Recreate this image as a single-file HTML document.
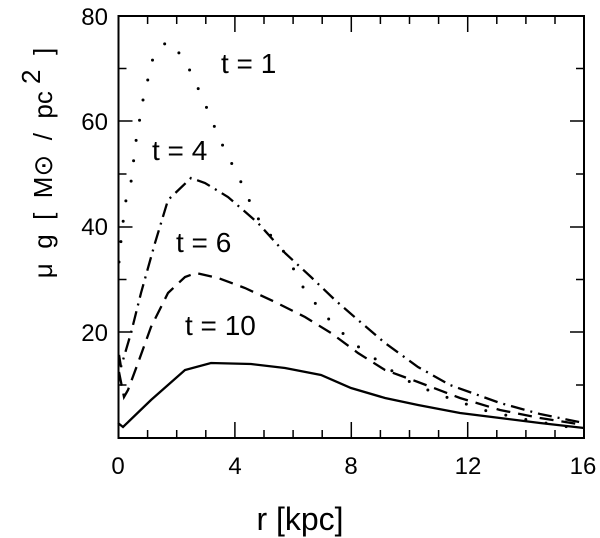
<!DOCTYPE html><html><head><style>body{margin:0;background:#fff}svg{display:block}text{font-family:"Liberation Sans","DejaVu Sans",sans-serif;fill:#000}</style></head><body>
<svg width="600" height="538" viewBox="0 0 600 538">
<g stroke="#000" stroke-width="2" fill="none">
<rect x="118.5" y="16" width="465.5" height="422"/>
</g>
<g stroke="#000" stroke-width="1.5">
<path d="M118.5 438v-8M147.6 438v-8M176.7 438v-8M205.8 438v-8M234.9 438v-16M264 438v-8M293.1 438v-8M322.2 438v-8M351.3 438v-16M380.4 438v-8M409.5 438v-8M438.6 438v-8M467.7 438v-16M496.8 438v-8M525.9 438v-8M555 438v-8
M147.6 16v8M176.7 16v8M205.8 16v8M234.9 16v16M264 16v8M293.1 16v8M322.2 16v8M351.3 16v16M380.4 16v8M409.5 16v8M438.6 16v8M467.7 16v16M496.8 16v8M525.9 16v8M555 16v8
M118.5 385h8M118.5 332h14M118.5 279.5h8M118.5 227h14M118.5 174h8M118.5 121h14M118.5 68.5h8
M584 385h-8M584 332h-14M584 279.5h-8M584 227h-14M584 174h-8M584 121h-14M584 68.5h-8"/>
</g>
<g font-size="24" text-anchor="end">
<text x="108" y="25">80</text><text x="108" y="130">60</text><text x="108" y="235">40</text><text x="108" y="341">20</text>
</g>
<g font-size="24" text-anchor="middle">
<text x="118" y="474">0</text><text x="235" y="474">4</text><text x="351" y="474">8</text><text x="468" y="474">12</text><text x="583" y="474">16</text>
</g>
<text x="300" y="530" font-size="32" text-anchor="middle">r [kpc]</text>
<text transform="translate(52,163) rotate(-90)" font-size="26" text-anchor="middle" xml:space="preserve">μ  g  [  M⊙  /  pc <tspan dy="-12">2</tspan><tspan dy="12">  ]</tspan></text>
<g font-size="28">
<text x="221" y="73">t = 1</text><text x="152" y="160">t = 4</text><text x="176" y="252">t = 6</text><text x="185" y="335">t = 10</text>
</g>
<g fill="none" stroke="#000" stroke-width="2.3">
<polyline stroke-width="3" stroke-linecap="round" stroke-dasharray="0 20.5" points="119,262 122,230 126,200 131,182 136,141 143,100 153,58 167,41 184,58 203,99 220,140 240,180 250,202 260,222 288,257 300,283 315,303 333,324 353,343 395,373 415,385 443,396 483,410 523,419 562,426 584,429"/>
<polyline stroke-dasharray="14 6 2 6" points="119,355 121,367 131,333 141,293 155,243 168,200 191,178 205,183 228,197 258,223 285,253 311,277 335,300 358,320 385,343 418,367 450,385 500,403 540,414 584,423"/>
<polyline stroke-dasharray="14 8" points="119,372 124,397 128,390 138,363 151,327 168,293 185,277 196,273 218,278 245,288 275,302 305,317 331,333 358,353 385,370 418,382 460,398 500,410 540,418 584,425"/>
<polyline points="118,423 123,427 151,400 185,370 211,363 251,364 285,368 321,375 351,388 385,398 418,405 460,413 500,418 540,423 584,428"/>
</g>
</svg></body></html>
